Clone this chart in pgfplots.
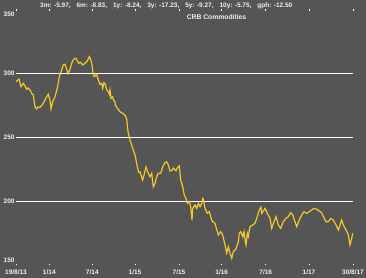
\documentclass[border=0pt]{standalone}
\usepackage{fontspec}
\setmainfont{Liberation Sans}
\usepackage{pgfplots}
\pgfplotsset{compat=1.18}
\definecolor{bg}{RGB}{85,85,85}
\definecolor{crb}{RGB}{245,200,40}
\definecolor{txt}{RGB}{240,240,240}
\begin{document}
\begin{tikzpicture}
\useasboundingbox (-16bp,-12.7bp) rectangle (350bp,265.3bp);
\fill[bg] (-16bp,-12.7bp) rectangle (350bp,265.3bp);
\begin{axis}[
  at={(0,0)}, anchor=south west,
  scale only axis, width=337bp, height=256bp,
  xmin=16, xmax=353, ymin=150, ymax=350,
  clip=false,
  axis line style={draw=none},
  ytick={200,250,300}, yticklabels={200,250,300},
  extra y ticks={154,346.3}, extra y tick labels={150,350},
  extra y tick style={grid=none},
  ymajorgrids, grid style={white, line width=1.1pt},
  ytick style={draw=none},
  xtick={16,49.3,92.3,135,179,221.7,265.7,309,353},
  xticklabels={19/8/13,1/14,7/14,1/15,7/15,1/16,7/16,1/17,30/8/17},
  xtick style={white, line width=1pt},
  major tick length=1.5pt, tick align=inside,
  every tick label/.append style={font=\fontsize{6.5}{7}\selectfont\bfseries, text=txt},
  yticklabel style={xshift=2pt},
  xticklabel style={yshift=-0.5pt},
]
\addplot[color=crb, line width=1.2pt] coordinates {
(16,293.4) (19,295.5) (21,289.5) (23.3,292.2) (25,290.1) (26.7,287.5) (28,288.5) (30,287.0)
(31.7,284.4) (33.3,283.0) (35,273.9) (36.7,272.1) (38,273.7) (40,273.4) (42,275.2) (43.3,276.6)
(45,279.1) (46.7,281.7) (48.3,283.6) (50,279.1) (51,272.1) (52.7,277.8) (55,281.7) (57.3,288.3)
(59.3,297.3) (61,301.3) (63.3,306.5) (65,307.0) (66.7,303.1) (68.3,300.0) (70,303.1) (72.3,309.1)
(74,311.2) (76,311.7) (78.7,307.8) (80.7,308.6) (82.7,306.5) (85,307.8) (87.3,309.6) (89.3,313.0)
(90.7,310.9) (92,306.5) (93.3,298.7) (94.3,297.3) (96.7,299.2) (97.7,296.1) (100,291.4)
(101.7,292.2) (102.7,288.3) (104,292.7) (105.3,291.4) (106.7,287.0) (108.3,285.6) (109.3,283.6)
(110,287.0) (111,280.5) (112.7,281.7) (113.3,279.1) (115,277.8) (115.3,275.2) (117.3,272.7)
(120,270.0) (122.7,268.8) (125.3,266.9) (126.7,264.3) (128,254.4) (130,247.9) (132.7,241.4)
(135,236.2) (137,228.4) (138.7,222.5) (140,222.9) (142.7,216.6) (144,220.5) (146,226.8)
(148.3,221.9) (150,219.2) (151.7,221.9) (153.3,211.2) (155,214.1) (156.7,219.2) (158.3,221.9)
(160.7,221.9) (162.7,227.0) (165,230.3) (166.7,230.9) (168.3,228.4) (170,223.7) (171.7,223.9)
(173.3,226.0) (176,223.9) (177.3,226.0) (179.3,227.6) (180.7,216.6) (182.7,211.4) (184.3,204.9)
(186,202.3) (187.3,198.4) (189.3,199.7) (190.7,195.8) (192,185.4) (192.7,194.5) (195,197.1)
(196.7,194.5) (198.3,198.4) (200,195.8) (201.7,198.4) (202.7,202.3) (203.3,201.8) (205,194.5)
(207.3,190.6) (209.3,191.9) (211.7,185.4) (212.7,184.1) (215,182.8) (218.3,173.7) (220.7,176.3)
(222.7,173.7) (225,165.9) (226.7,159.6) (228.3,164.5) (230,159.4) (231.7,155.5) (233.3,160.6)
(236,162.7) (238.3,168.4) (239.3,175.0) (240.7,176.3) (242.7,172.3) (244,176.3) (245,169.8)
(246,165.9) (247.3,175.0) (248.3,172.3) (250,180.2) (252.7,181.5) (255,182.8) (257.3,188.0)
(259.3,193.2) (261,195.3) (261.7,190.6) (264,193.2) (265,194.5) (267.3,190.6) (270,186.7)
(271.7,178.9) (274,184.1) (276,188.0) (278.3,181.5) (280.7,178.9) (283.3,184.1) (286,186.7)
(288.3,188.0) (290.7,191.1) (292.7,189.3) (295,184.1) (296.7,180.2) (299.3,185.4) (301.7,189.3)
(304,191.9) (306.7,190.6) (309.3,191.9) (311.7,193.2) (314,194.5) (316.7,193.8) (319.3,192.4)
(321.7,191.1) (323.3,188.0) (326,184.1) (328.3,184.1) (330.7,186.7) (333.3,185.4) (336,181.5)
(338.3,177.6) (340,181.5) (341.7,185.4) (343.3,181.5) (346,177.6) (348.3,173.7) (350,165.9)
(351.7,171.1) (352.7,175.0)
};
\node[font=\fontsize{6.5}{7}\selectfont\bfseries, text=txt, anchor=west, inner sep=0pt] at (axis cs:40,352.6)
 {3m: -5.97,\hspace{6pt}6m: -8.83,\hspace{6pt}1y: -8.24,\hspace{6pt}3y: -17.23,\hspace{6pt}5y: -9.27,\hspace{6pt}10y: -5.75,\hspace{6pt}gph: -12.50};
\node[font=\fontsize{6.8}{7}\selectfont\bfseries, text=txt, inner sep=0pt] at (axis cs:216.5,343.6) {CRB Commodities};
\end{axis}
\end{tikzpicture}
\end{document}
